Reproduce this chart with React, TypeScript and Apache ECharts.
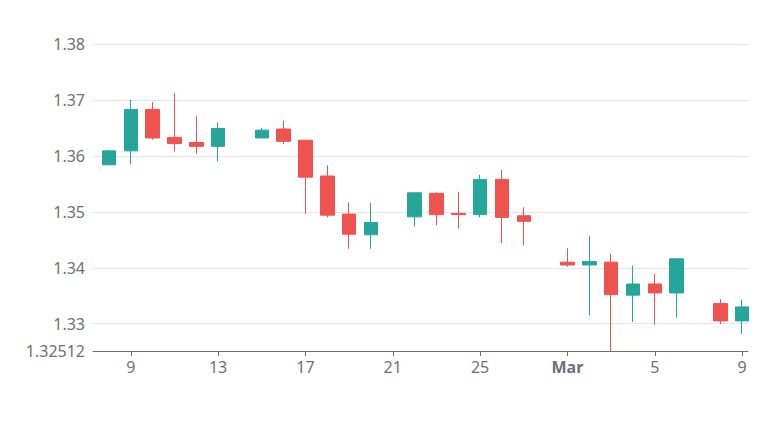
import React, { useEffect, useRef } from "react";
import * as echarts from "echarts";

const dates = [
  "2021-02-08", "2021-02-09", "2021-02-10", "2021-02-11", "2021-02-12", "2021-02-13",
  "2021-02-15", "2021-02-16", "2021-02-17", "2021-02-18", "2021-02-19", "2021-02-20",
  "2021-02-22", "2021-02-23", "2021-02-24", "2021-02-25", "2021-02-26", "2021-02-27",
  "2021-03-01", "2021-03-02", "2021-03-03", "2021-03-04", "2021-03-05", "2021-03-06",
  "2021-03-08", "2021-03-09",
];
const opens = [
  1.3584, 1.3609, 1.3683, 1.3633, 1.3624, 1.3617,
  1.3632, 1.3648, 1.3628, 1.3564, 1.3496, 1.3459,
  1.3491, 1.3533, 1.3497, 1.3495, 1.3558, 1.3493,
  1.3410, 1.3405, 1.3410, 1.3351, 1.3371, 1.3355,
  1.3336, 1.3305,
];
const closes = [
  1.3609, 1.3683, 1.3632, 1.3622, 1.3617, 1.3649,
  1.3646, 1.3626, 1.3562, 1.3494, 1.3460, 1.3481,
  1.3534, 1.3495, 1.3495, 1.3558, 1.3490, 1.3483,
  1.3405, 1.3411, 1.3352, 1.3371, 1.3355, 1.3416,
  1.3305, 1.3330,
];
const lows = [
  1.3584, 1.3585, 1.3629, 1.3608, 1.3604, 1.3590,
  1.3632, 1.3621, 1.3496, 1.3490, 1.3434, 1.3434,
  1.3474, 1.3476, 1.3470, 1.3490, 1.3444, 1.3440,
  1.3402, 1.3315, 1.32512, 1.3303, 1.3298, 1.3311,
  1.3299, 1.3282,
];
const highs = [
  1.3611, 1.3700, 1.3696, 1.3712, 1.3671, 1.3660,
  1.3650, 1.3663, 1.3629, 1.3583, 1.3517, 1.3516,
  1.3534, 1.3535, 1.3536, 1.3566, 1.3575, 1.3508,
  1.3435, 1.3457, 1.3425, 1.3404, 1.3389, 1.3417,
  1.3344, 1.3343,
];

const X_MIN = "2021-02-07 06:30:00";
const X_MAX = "2021-03-09 06:30:00";
const Y_MIN = 1.32512;
const Y_MAX = 1.38;

export default function App() {
  const ref = useRef<HTMLDivElement>(null);
  useEffect(() => {
    if (!ref.current) return;
    const chart = echarts.init(ref.current, undefined, { renderer: "svg" });
    const data = dates.map((d, i) => [d, opens[i], closes[i], lows[i], highs[i]]);
    const font = "'Noto Sans', sans-serif";
    chart.setOption({
      animation: false,
      grid: { left: 85, right: 14, top: 36, bottom: 85 },
      xAxis: {
        type: "time",
        min: X_MIN,
        max: X_MAX,
        axisLine: { lineStyle: { color: "#6E7079" } },
        axisTick: { show: true },
        axisLabel: { fontSize: 16, color: "#6E7079", fontFamily: font },
        splitLine: { show: false },
      },
      yAxis: {
        type: "value",
        min: Y_MIN,
        max: Y_MAX,
        splitNumber: 5,
        axisLabel: { fontSize: 16, color: "#6E7079", fontFamily: font },
        splitLine: { lineStyle: { color: "#E0E6F1" } },
      },
      series: [
        {
          type: "candlestick",
          barWidth: 14,
          data,
          itemStyle: {
            color: "#26a69a",
            color0: "#ef5350",
            borderColor: "#26a69a",
            borderColor0: "#ef5350",
          },
        },
      ],
    });
    return () => chart.dispose();
  }, []);
  return <div ref={ref} style={{ width: 754, height: 428 }} />;
}
